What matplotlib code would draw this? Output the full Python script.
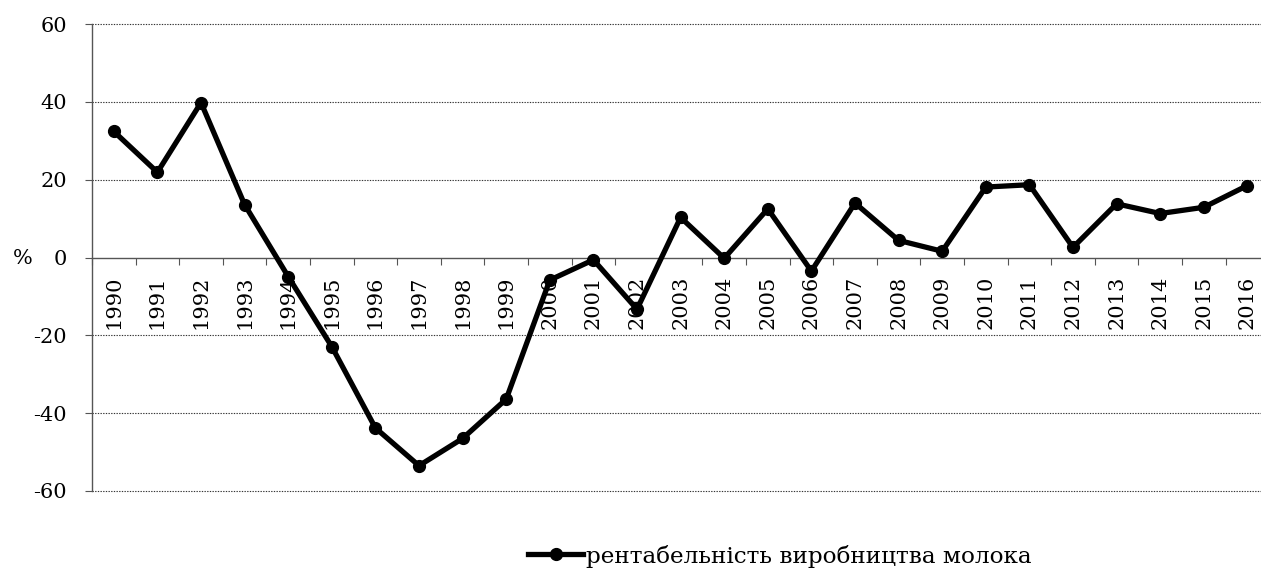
import matplotlib
matplotlib.use('Agg')
import matplotlib.pyplot as plt
import numpy as np

# milk production profitability, %
years = [str(y) for y in range(1990, 2017)]
profitability = [32.4, 21.9, 39.8, 13.6, -4.9, -22.9, -43.8, -53.5, -46.5, -36.4,
                 -5.8, -0.6, -13.3, 10.3, -0.2, 12.5, -3.5, 14.0, 4.4, 1.6,
                 18.1, 18.7, 2.6, 13.8, 11.3, 12.9, 18.5]
series_label = 'рентабельність виробництва молока'
y_ticks = [-60, -40, -20, 0, 20, 40, 60]

plt.rcParams['font.family'] = ['DejaVu Serif', 'Liberation Serif']

W, H = 1261, 572
fig = plt.figure(figsize=(W / 100, H / 100), dpi=100)
# axes runs past the right edge like in the original (cropped)
left, right_px, top, bottom = 92, 92 + 27 * 43.6, 24, 491
ax = fig.add_axes([left / W, 1 - bottom / H, (right_px - left) / W, (bottom - top) / H])

x = np.arange(len(years))
line, = ax.plot(x, profitability, color='black', lw=3.8, marker='o', markersize=8.5,
                solid_joinstyle='round', zorder=3)

ax.set_xlim(-0.5, len(years) - 0.5)
ax.set_ylim(-60, 60)

# grid
for v in y_ticks:
    if v != 0:
        ax.axhline(v, color='#333333', lw=0.8, ls=(0, (1.2, 1.2)), zorder=1, clip_on=False)

for s in ['top', 'right']:
    ax.spines[s].set_visible(False)
ax.spines['bottom'].set_position(('data', 0))
ax.spines['bottom'].set_color('#555555')
ax.spines['left'].set_color('#555555')
ax.spines['bottom'].set_linewidth(1.0)
ax.spines['left'].set_linewidth(1.0)

ax.set_yticks(y_ticks)
ax.set_yticklabels([str(v) for v in y_ticks], fontsize=15)
ax.tick_params(axis='y', length=5, color='#555555', pad=13)

# category boundaries as major ticks, labels at centres
ax.set_xticks(np.arange(-0.5, len(years), 1.0))
ax.set_xticklabels([])
ax.tick_params(axis='x', which='major', length=5, color='#555555', direction='out')
ax.set_xticks(x, minor=True)
ax.set_xticklabels(years, minor=True, rotation=90, fontsize=15, va='top', ha='center')
ax.tick_params(axis='x', which='minor', length=0, pad=13)

fig.text(23 / W, 1 - 258 / H, '%', fontsize=15, ha='center', va='center')

fig.legend([line], [series_label], loc='center', bbox_to_anchor=(780 / W, 1 - 556 / H),
           frameon=False, fontsize=16.7, handlelength=2.35, handletextpad=0.15,
           borderpad=0, borderaxespad=0)

fig.savefig('out.png', dpi=100)
